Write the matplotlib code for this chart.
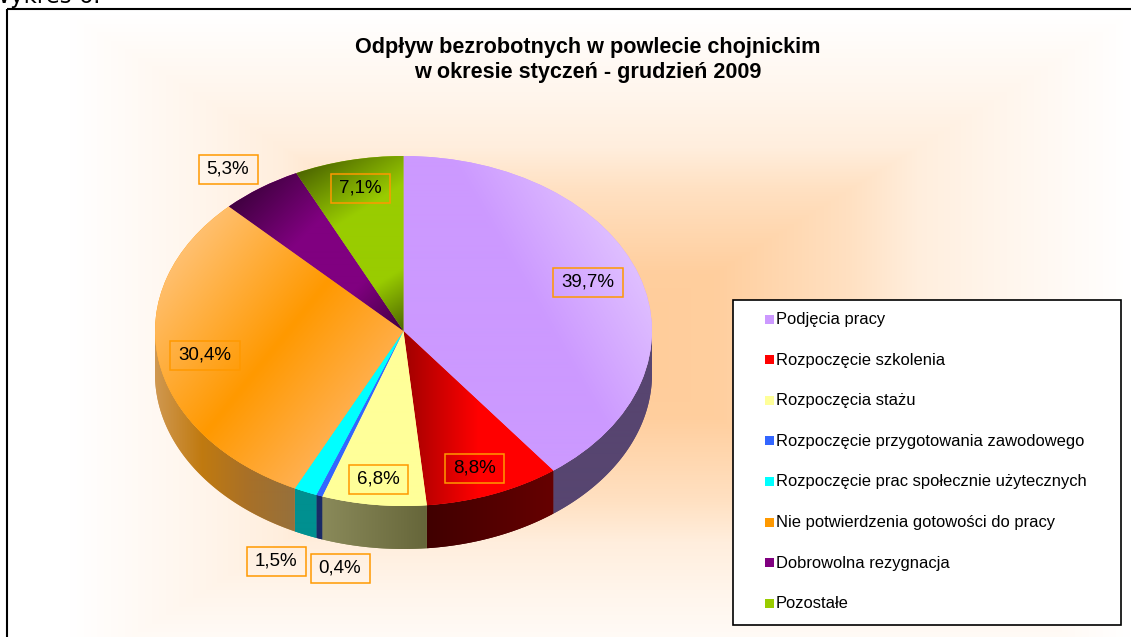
import numpy as np
import matplotlib
matplotlib.use('Agg')
import matplotlib.pyplot as plt
from matplotlib.colors import to_rgb
from matplotlib.patches import Polygon, Rectangle

categories = ['Podjęcia pracy', 'Rozpoczęcie szkolenia', 'Rozpoczęcia stażu',
              'Rozpoczęcie przygotowania zawodowego',
              'Rozpoczęcie prac społecznie użytecznych',
              'Nie potwierdzenia gotowości do pracy',
              'Dobrowolna rezygnacja', 'Pozostałe']
values = [39.7, 8.8, 6.8, 0.4, 1.5, 30.4, 5.3, 7.1]
title = 'Odpływ bezrobotnych w powlecie chojnickim\nw okresie styczeń - grudzień 2009'

colors = ['#cc99ff', '#ff0000', '#ffff99', '#3366ff', '#00ffff', '#ff9900', '#800080', '#99cc00']
# top of each slice: gradient stops, their positions and direction (degrees, y up)
top_grad = [(['#cc99ff', '#cc99ff', '#dfbfff'], [0, .55, 1], 30),
            (['#a00000', '#ff0000', '#ff0000'], [0, .5, 1], 0),
            (['#ffff99', '#ffff99'], [0, 1], 0),
            (['#3366ff', '#3366ff'], [0, 1], 0),
            (['#00ffff', '#00ffff'], [0, 1], 0),
            (['#ffc070', '#ff9900', '#ffb050'], [0, .56, 1], -39),
            (['#400040', '#800080', '#800080', '#400040'], [0, .35, .7, 1], -45),
            (['#4d6600', '#99cc00', '#99cc00', '#4d6600'], [0, .35, .72, 1], -58)]
wall_grad = [['#574570', '#574570'], ['#400000', '#660000'], ['#8a8a5a', '#66663a'],
             ['#1a2a66', '#1a2a66'], ['#009090', '#009090'],
             ['#d09850', '#c07a10', '#a87028', '#96703c'],
             ['#400040', '#400040'], ['#4d6600', '#4d6600']]
# where the value boxes sit (pixels, centre)
label_pos = [(588, 282), (474, 468), (378, 479), (340, 568), (276, 561), (205, 355), (228, 169), (360, 188)]

W, H = 1131, 637
PIE_L, PIE_R, PIE_T, PIE_B = 155, 652, 156, 506
DEPTH = 43
FONT = 'Liberation Sans'

fig = plt.figure(figsize=(W / 100, H / 100), dpi=100, facecolor='white')

# background
bg = fig.add_axes([0, 0, 1, 1])
bg.set_xlim(0, W)
bg.set_ylim(H, 0)
bg.axis('off')
xx, yy = np.meshgrid(np.arange(W) + .5, np.arange(H) + .5)
f = np.maximum(np.abs(xx - 600) / 530, np.abs(yy - 345) / 330)
a = np.interp(f, [0, .22, .47, .6, .75, 1], [1, .95, .6, .33, .19, 0])[..., None]
rgb = (1 - a) * np.array([1., 1., 1.]) + a * np.array(to_rgb('#ffcc99'))
rgb[yy < 9] = 1
rgb[xx < 7] = 1
bg.imshow(rgb, extent=(0, W, H, 0), aspect='auto', interpolation='nearest')
bg.plot([7, 7], [9, H], color='black', lw=1.5, solid_capstyle='butt')
bg.plot([7, W], [9, 9], color='black', lw=1.5, solid_capstyle='butt')
bg.text(100, 3, 'Wykres 6.', family='DejaVu Sans', fontsize=16.4, va='baseline', ha='right')
bg.text(588, 60, title, family=FONT, weight='bold', fontsize=15.6, ha='center', va='center',
        linespacing=1.27)
bg.set_xlim(0, W)
bg.set_ylim(H, 0)

# pie, drawn on its own stretched axes so it comes out elliptical
pie_h = PIE_B + DEPTH - PIE_T
ax = fig.add_axes([PIE_L / W, 1 - (PIE_T + pie_h) / H, (PIE_R - PIE_L) / W, pie_h / H])
wedges, _ = ax.pie(values, colors=colors, startangle=90, counterclock=False, radius=1,
                   center=(0, 0), wedgeprops={'linewidth': 0})
d = DEPTH / ((PIE_B - PIE_T) / 2)
extent = (-1, 1, -1 - d, 1)
gx, gy = np.meshgrid(np.linspace(-1, 1, PIE_R - PIE_L), np.linspace(1, -1 - d, pie_h))


def ramp(stops, t, pts=None):
    if pts is None:
        pts = np.linspace(0, 1, len(stops))
    cols = np.array([to_rgb(s) for s in stops])
    return np.dstack([np.interp(t, pts, cols[:, i]) for i in range(3)])


# side walls first
for w, stops in zip(wedges, wall_grad):
    t1, t2 = max(w.theta1, -180), min(w.theta2, 0)
    if t1 >= t2:
        continue
    th = np.radians(np.linspace(t1, t2, 80))
    px, py = np.cos(th), np.sin(th)
    poly = Polygon(np.r_[np.c_[px, py], np.c_[px[::-1], py[::-1] - d]], closed=True,
                   facecolor=stops[0], edgecolor='none', zorder=1)
    ax.add_patch(poly)
    t = np.clip((gx - px.min()) / max(px.max() - px.min(), 1e-6), 0, 1)
    im = ax.imshow(ramp(stops, t), extent=extent, aspect='auto', zorder=1.5, interpolation='bilinear')
    im.set_clip_path(poly)

# slice tops with their gradient
for w, (stops, pts, ang) in zip(wedges, top_grad):
    w.set_zorder(2)
    th = np.radians(np.linspace(w.theta1, w.theta2, 80))
    bx = np.r_[0, np.cos(th)]
    by = np.r_[0, np.sin(th)]
    ux, uy = np.cos(np.radians(ang)), np.sin(np.radians(ang))
    s = ux * gx * (PIE_R - PIE_L) / 2 + uy * gy * (PIE_B - PIE_T) / 2
    sb = ux * bx * (PIE_R - PIE_L) / 2 + uy * by * (PIE_B - PIE_T) / 2
    t = np.clip((s - sb.min()) / (sb.max() - sb.min()), 0, 1)
    im = ax.imshow(ramp(stops, t, pts), extent=extent, aspect='auto', zorder=2.5, interpolation='bilinear')
    im.set_clip_path(w)

ax.set_aspect('auto')
ax.set_xlim(-1, 1)
ax.set_ylim(-1 - d, 1)
ax.axis('off')

# labels and legend on a pixel overlay
top = fig.add_axes([0, 0, 1, 1], facecolor='none')
top.set_xlim(0, W)
top.set_ylim(H, 0)
top.axis('off')

for v, (cx, cy) in zip(values, label_pos):
    bw = 70 if v >= 10 else 59
    top.add_patch(Rectangle((cx - bw / 2, cy - 14.5), bw, 29, facecolor='none', edgecolor='#ff9900', lw=1.1))
    top.text(cx, cy, ('%.1f%%' % v).replace('.', ','), family=FONT, fontsize=13.5, ha='center',
             va='center', color='black')

top.add_patch(Rectangle((733, 299.5), 388, 325.5, facecolor='white', edgecolor='black', lw=1.2))
for i, (name, c) in enumerate(zip(categories, colors)):
    y = 319.5 + i * 40.6
    top.add_patch(Rectangle((765, y - 5), 9, 9, facecolor=c, edgecolor='none'))
    top.text(776, y, name, family=FONT, fontsize=11.9, ha='left', va='center', color='black')

fig.savefig('out.png', dpi=100)
plt.close()
